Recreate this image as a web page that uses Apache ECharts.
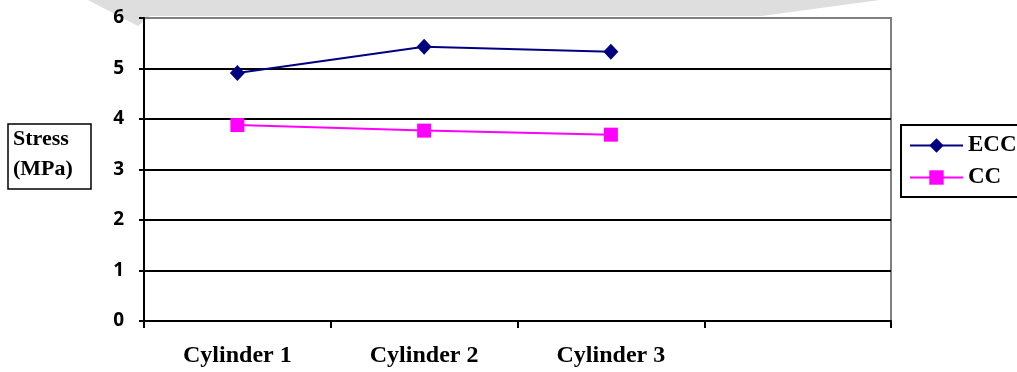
<!DOCTYPE html>
<html>
<head>
<meta charset="utf-8">
<title>Stress</title>
<script src="https://cdn.jsdelivr.net/npm/echarts@6/dist/echarts.min.js"></script>
<style>
  html, body { margin: 0; padding: 0; background: #fff; }
  #chart { width: 1017px; height: 372px; }
</style>
</head>
<body>
<div id="chart"></div>
<script>
// Category labels (the fourth slot is an empty band on the axis)
const categories = ['Cylinder 1', 'Cylinder 2', 'Cylinder 3', ''];
// Stress values in MPa
const eccValues = [4.91, 5.43, 5.33, null];
const ccValues = [3.88, 3.77, 3.69, null];
// Value axis range
const yMin = 0;
const yMax = 6;
const yStep = 1;

const serif = '"Liberation Serif", "Times New Roman", serif';
const sans = '"Noto Sans", "Open Sans", sans-serif';

const chart = echarts.init(document.getElementById('chart'));

chart.setOption({
  backgroundColor: '#ffffff',
  animation: false,
  graphic: [
    // light grey band across the top
    {
      type: 'polygon',
      z: -10,
      shape: { points: [[88, 0], [880, 0], [762, 16], [150, 16], [138, 26]] },
      style: { fill: '#dedede' },
      silent: true
    },
    // boxed value-axis title
    {
      type: 'rect',
      shape: { x: 8, y: 124, width: 83, height: 65 },
      style: { fill: '#fff', stroke: '#000', lineWidth: 1.5 }
    },
    {
      type: 'text',
      x: 13,
      y: 139,
      style: {
        text: 'Stress',
        font: 'bold 22px ' + serif,
        fill: '#000',
        verticalAlign: 'middle'
      }
    },
    {
      type: 'text',
      x: 13,
      y: 169,
      style: {
        text: '(MPa)',
        font: 'bold 22px ' + serif,
        fill: '#000',
        verticalAlign: 'middle'
      }
    }
  ],
  legend: {
    orient: 'vertical',
    left: 901,
    top: 125,
    padding: [9, 60, 8, 8],
    itemWidth: 53,
    itemHeight: 18,
    itemGap: 9,
    borderColor: '#000',
    borderWidth: 2,
    backgroundColor: '#fff',
    lineStyle: { width: 2 },
    textStyle: { fontFamily: serif, fontWeight: 'bold', fontSize: 23, color: '#000' },
    data: ['ECC', 'CC']
  },
  grid: {
    left: 144,
    right: 126,
    top: 18,
    bottom: 51,
    show: true,
    borderColor: '#808080',
    borderWidth: 2,
    backgroundColor: 'transparent'
  },
  xAxis: {
    type: 'category',
    data: categories,
    boundaryGap: true,
    axisLine: { lineStyle: { color: '#000', width: 2 } },
    axisTick: { show: true, length: 7, lineStyle: { color: '#000', width: 2 } },
    axisLabel: {
      margin: 23,
      fontFamily: serif,
      fontWeight: 'bold',
      fontSize: 24,
      color: '#000'
    },
    splitLine: { show: false }
  },
  yAxis: {
    type: 'value',
    min: yMin,
    max: yMax,
    interval: yStep,
    axisLine: { show: true, lineStyle: { color: '#000', width: 2 } },
    axisTick: { show: true, length: 5, lineStyle: { color: '#000', width: 2 } },
    axisLabel: {
      margin: 20,
      fontFamily: sans,
      fontWeight: 'bold',
      fontSize: 19,
      color: '#000'
    },
    splitLine: {
      show: true,
      lineStyle: {
        color: ['#000', '#000', '#000', '#000', '#000', '#000', '#808080'],
        width: 2
      }
    }
  },
  series: [
    {
      name: 'ECC',
      type: 'line',
      data: eccValues,
      symbol: 'diamond',
      symbolSize: [15, 16],
      lineStyle: { color: '#000080', width: 2 },
      itemStyle: { color: '#000080' },
      z: 3
    },
    {
      name: 'CC',
      type: 'line',
      data: ccValues,
      symbol: 'rect',
      symbolSize: 14,
      lineStyle: { color: '#ff00ff', width: 2 },
      itemStyle: { color: '#ff00ff' },
      z: 3
    }
  ]
});
</script>
</body>
</html>
